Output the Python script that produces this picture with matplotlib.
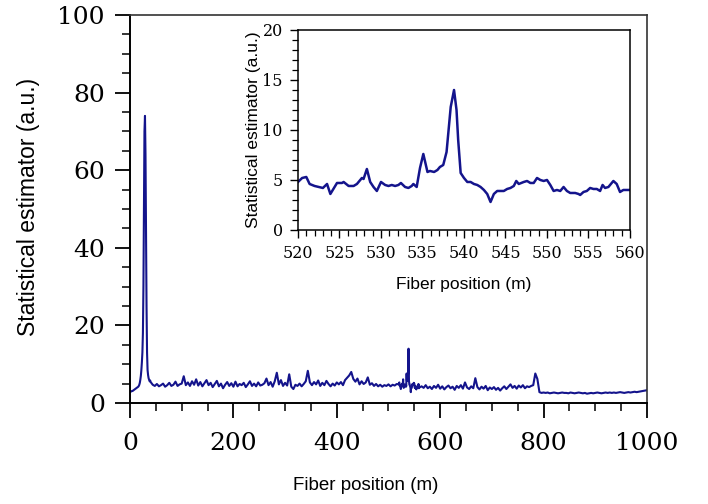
import numpy as np
import matplotlib
matplotlib.use('Agg')
import matplotlib.pyplot as plt
from matplotlib.ticker import MultipleLocator

LINE_COLOR = '#14148c'

# Pico inicial (0-39 m, passo de 1 m)
x_peak = np.arange(0, 40, 1)
y_peak = [2.8, 2.9, 3.0, 3.0, 3.1, 3.1, 3.2, 3.3, 3.4, 3.5,
          3.6, 3.7, 3.8, 3.9, 4.0, 4.1, 4.2, 4.4, 4.7, 5.2,
          6.0, 7.0, 8.5, 10.5, 13.0, 18.0, 30.0, 52.0, 70.0, 74.0,
          64.0, 44.0, 25.0, 13.0, 8.5, 7.2, 6.4, 6.0, 5.6, 5.8]

# Trecho 40-516 m (passo de 4 m)
x_mid1 = np.arange(40, 520, 4)
y_mid1 = [5.4, 4.7, 4.4, 4.9, 4.3, 4.6, 5.0, 4.2, 4.6, 5.2, 4.4, 4.7, 5.5, 4.4, 4.8, 5.0,
          6.9, 4.6, 5.3, 4.4, 5.6, 4.7, 6.1, 4.5, 5.4, 4.3, 5.1, 5.9, 4.6, 5.2, 4.1, 4.9,
          5.7, 4.3, 5.0, 3.8, 4.7, 5.4, 4.4, 5.1, 4.2,
          5.5, 4.3, 4.9, 4.6, 5.2, 4.1, 4.8, 5.6, 4.4, 5.0, 4.3, 5.3, 4.5, 4.7, 5.1, 6.3,
          4.6, 5.4, 4.2, 5.6, 7.8, 4.8, 5.9, 4.4, 5.2,
          4.5, 7.4, 4.2, 3.6, 4.7, 4.4, 5.0, 4.3, 4.9, 5.6, 8.3, 5.3, 4.6, 5.4, 4.8, 5.8,
          4.4, 5.2, 4.6, 5.7, 4.9, 4.3, 5.0, 4.5, 5.3,
          4.8, 5.4, 4.6, 5.9, 6.5, 7.1, 8.0, 6.2, 5.5, 6.3, 4.8, 5.6, 4.9, 5.3, 6.6, 4.7,
          5.1, 4.4, 4.9, 4.3, 4.7, 4.2, 4.6, 4.4, 4.8,
          4.3, 4.7, 4.5, 4.9]

# Detalhe 520-560 m (mesmos dados do gráfico interno)
x_zoom = [520.0, 520.5, 521.0, 521.4, 522.0, 523.0, 523.5, 523.9, 524.7, 525.3,
          525.5, 526.1, 526.7, 527.1, 527.7, 527.9, 528.3, 528.7, 529.1, 529.5,
          530.0, 530.5, 530.9, 531.3, 531.7, 532.1, 532.4, 532.9, 533.3, 533.7,
          533.9, 534.3, 534.7, 535.1, 535.6, 535.9, 536.4, 536.8, 537.1, 537.5,
          537.9, 538.4, 538.8, 539.1, 539.3, 539.6, 540.0, 540.4, 540.8, 541.2,
          541.6, 542.0, 542.4, 542.8, 543.2, 543.6, 544.0, 544.8, 545.2, 545.6,
          546.0, 546.3, 546.6, 547.2, 547.6, 548.0, 548.4, 548.8, 549.2, 549.6,
          550.0, 550.4, 550.8, 551.2, 551.6, 552.0, 552.4, 552.8, 553.4, 553.8,
          554.0, 554.4, 554.8, 555.2, 555.6, 556.0, 556.4, 556.7, 557.0, 557.4,
          558.0, 558.4, 558.8, 559.2, 560.0]
y_zoom = [4.8, 5.2, 5.3, 4.6, 4.4, 4.2, 4.6, 3.6, 4.7, 4.7,
          4.8, 4.4, 4.4, 4.6, 5.2, 5.1, 6.1, 4.8, 4.3, 3.9,
          4.8, 4.5, 4.4, 4.5, 4.4, 4.5, 4.7, 4.3, 4.2, 4.4,
          4.6, 4.3, 6.2, 7.6, 5.8, 5.9, 5.8, 6.0, 6.3, 6.5,
          7.8, 12.3, 14.0, 12.0, 9.0, 5.7, 5.2, 4.8, 4.8, 4.6,
          4.5, 4.3, 4.0, 3.6, 2.8, 3.6, 3.9, 3.9, 4.1, 4.2,
          4.4, 4.9, 4.6, 4.8, 4.9, 4.7, 4.7, 5.2, 5.0, 4.9,
          5.0, 4.5, 3.9, 4.0, 3.9, 4.3, 3.9, 3.7, 3.7, 3.6,
          3.5, 3.8, 3.9, 4.2, 4.1, 4.1, 3.9, 4.5, 4.2, 4.3,
          4.9, 4.6, 3.8, 4.0, 4.0]

# Trecho 564-1000 m (passo de 4 m)
x_mid2 = np.arange(564, 1001, 4)
y_mid2 = [4.3, 3.9, 4.6, 3.8, 4.2, 3.6, 4.4, 3.9, 4.7, 3.7, 4.3, 3.5, 4.1, 4.5, 3.8, 4.2,
          3.4, 4.4, 3.9, 4.6, 3.7, 5.3, 4.0, 3.6, 4.3, 3.8, 6.4, 4.1, 3.5, 4.2, 3.7, 4.4,
          3.3, 4.0, 3.6,
          4.1, 3.4, 3.9, 3.2, 3.8, 4.3, 3.6, 4.2, 4.8, 3.9, 4.4, 3.7, 4.5, 4.0, 4.6, 3.8,
          4.3, 4.1, 4.4, 4.6, 7.6, 6.2, 2.8, 2.6, 2.7,
          2.6, 2.7, 2.5, 2.6, 2.7, 2.6, 2.5, 2.6, 2.7, 2.6, 2.6, 2.5, 2.7, 2.6, 2.5, 2.6,
          2.7, 2.6, 2.5, 2.6, 2.4, 2.5, 2.6, 2.5, 2.6, 2.7, 2.6, 2.5, 2.6, 2.7, 2.6, 2.7,
          2.6, 2.7, 2.6, 2.7, 2.8, 2.7, 2.6, 2.7, 2.8, 2.7, 2.8, 2.9, 2.8, 2.9, 3.0, 3.1,
          3.2, 3.3]

x_all = np.concatenate([x_peak, x_mid1, x_zoom, x_mid2])
y_all = np.concatenate([y_peak, y_mid1, y_zoom, y_mid2])

serif = 'DejaVu Serif'
sans = 'Liberation Sans'

fig = plt.figure(figsize=(7.08, 5.04), dpi=100)

# Gráfico principal
ax = fig.add_axes([0.1836, 0.2004, 0.7302, 0.7698])
ax.plot(x_all, y_all, color=LINE_COLOR, lw=1.5)
ax.set_xlim(0, 1000)
ax.set_ylim(0, 100)
ax.xaxis.set_major_locator(MultipleLocator(200))
ax.xaxis.set_minor_locator(MultipleLocator(50))
ax.yaxis.set_major_locator(MultipleLocator(20))
ax.yaxis.set_minor_locator(MultipleLocator(5))
ax.tick_params(which='major', direction='out', length=11, width=1.3, labelsize=18)
ax.tick_params(which='minor', direction='out', length=5.5, width=1.1)
ax.tick_params(axis='x', which='major', pad=10)
ax.tick_params(axis='y', which='major', pad=7)
for lab in ax.get_xticklabels() + ax.get_yticklabels():
    lab.set_fontfamily(serif)
for s in ['left', 'bottom']:
    ax.spines[s].set_linewidth(1.4)
for s in ['top', 'right']:
    ax.spines[s].set_linewidth(1.2)
    ax.spines[s].set_color('#333333')
ax.set_xlabel('Fiber position (m)', fontsize=13.5, fontfamily=sans)
ax.set_ylabel('Statistical estimator (a.u.)', fontsize=16.5, fontfamily=sans)
ax.xaxis.set_label_coords(0.456, -0.19)
ax.yaxis.set_label_coords(-0.174, 0.505)

# Gráfico interno (zoom)
axin = fig.add_axes([0.4209, 0.5437, 0.4689, 0.3968])
axin.plot(x_zoom, y_zoom, color=LINE_COLOR, lw=1.8)
axin.set_xlim(520, 560)
axin.set_ylim(0, 20)
axin.xaxis.set_major_locator(MultipleLocator(5))
axin.xaxis.set_minor_locator(MultipleLocator(1))
axin.yaxis.set_major_locator(MultipleLocator(5))
axin.yaxis.set_minor_locator(MultipleLocator(1))
axin.tick_params(which='major', direction='out', length=6, width=1.0, labelsize=11.5, pad=5)
axin.tick_params(which='minor', direction='out', length=4, width=0.9)
for lab in axin.get_xticklabels() + axin.get_yticklabels():
    lab.set_fontfamily(serif)
for s in axin.spines.values():
    s.set_linewidth(1.1)
axin.set_xlabel('Fiber position (m)', fontsize=12.5, fontfamily=sans)
axin.set_ylabel('Statistical estimator (a.u.)', fontsize=12.5, fontfamily=sans)
axin.xaxis.set_label_coords(0.5, -0.235)
axin.yaxis.set_label_coords(-0.111, 0.5)

fig.savefig('out.png', dpi=100)
